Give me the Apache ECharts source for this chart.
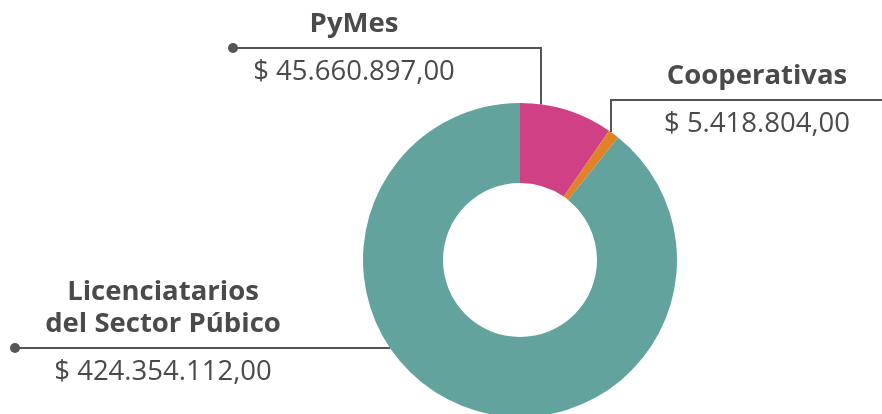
<!DOCTYPE html>
<html>
<head>
<meta charset="utf-8">
<script src="https://cdn.jsdelivr.net/npm/echarts@6/dist/echarts.min.js"></script>
<style>
  html, body { margin: 0; padding: 0; background: #fff; }
  #chart { width: 882px; height: 414px; }
</style>
</head>
<body>
<div id="chart"></div>
<script>
// datos
const categories = ['PyMes', 'Cooperativas', 'Licenciatarios\ndel Sector Púbico']
const amounts = [45660897.00, 5418804.00, 424354112.00]
const sliceColors = ['#d04085', '#df8228', '#62a39d']

// geometria de la dona
const cx = 520
const cy = 260
const rOut = 157
const rIn = 77

// donde va cada etiqueta (x centro, y de la linea, codo, fin)
const labelSpots = [
  { x: 354, lineY: 48, elbowX: 541, endX: 233, dot: true },
  { x: 757, lineY: 100, elbowX: 611, endX: 882, dot: false },
  { x: 163, lineY: 348, elbowX: null, endX: 15, dot: true }
]

const textColor = '#4a4a4a'
const lineColor = '#555555'
const lineH = 32

function formatMoney (v) {
  let parts = v.toFixed(2).split('.')
  let ent = parts[0].replace(/\B(?=(\d{3})+(?!\d))/g, '.')
  return '$ ' + ent + ',' + parts[1]
}
function edgeY (x) {
  return cy - Math.sqrt(rOut * rOut - (x - cx) * (x - cx))
}
function edgeX (y) {
  return cx - Math.sqrt(rOut * rOut - (y - cy) * (y - cy))
}

let chart = echarts.init(document.getElementById('chart'), null, { renderer: 'canvas' })

let option = {
  animation: false,
  backgroundColor: '#ffffff',
  graphic: labelSpots.filter(s => s.dot).map(s => ({
    type: 'circle',
    shape: { cx: s.endX, cy: s.lineY, r: 5 },
    style: { fill: lineColor },
    z: 10
  })),
  series: [{
    type: 'pie',
    center: [cx, cy],
    radius: [rIn, rOut],
    startAngle: 90,
    clockwise: true,
    avoidLabelOverlap: false,
    itemStyle: { borderWidth: 0 },
    data: categories.map((c, i) => ({
      name: c,
      value: amounts[i],
      itemStyle: { color: sliceColors[i] }
    })),
    label: {
      show: true,
      position: 'outside',
      color: textColor,
      fontFamily: 'Open Sans',
      formatter: function (p) {
        let lines = categories[p.dataIndex].split('\n').map(l => '{t|' + l + '}')
        return lines.join('\n') + '\n{s| }\n{v|' + formatMoney(amounts[p.dataIndex]) + '}'
      },
      rich: {
        t: { fontFamily: 'Open Sans', fontSize: 27.5, fontWeight: 'bold', color: textColor, lineHeight: lineH },
        s: { fontSize: 2, lineHeight: 16 },
        v: { fontFamily: 'Open Sans', fontSize: 27.5, color: textColor, lineHeight: lineH }
      }
    },
    labelLine: {
      show: true,
      smooth: false,
      lineStyle: { color: lineColor, width: 2 }
    },
    labelLayout: function (params) {
      let s = labelSpots[params.dataIndex]
      let n = categories[params.dataIndex].split('\n').length
      let top = s.lineY - n * lineH - 8
      let pts
      if (s.elbowX !== null) {
        pts = [[s.elbowX, edgeY(s.elbowX)], [s.elbowX, s.lineY], [s.endX, s.lineY]]
      } else {
        let x0 = edgeX(s.lineY)
        pts = [[x0, s.lineY], [(x0 + s.endX) / 2, s.lineY], [s.endX, s.lineY]]
      }
      return {
        x: s.x,
        y: top,
        align: 'center',
        verticalAlign: 'top',
        labelLinePoints: pts
      }
    }
  }]
}
chart.setOption(option)
</script>
</body>
</html>
